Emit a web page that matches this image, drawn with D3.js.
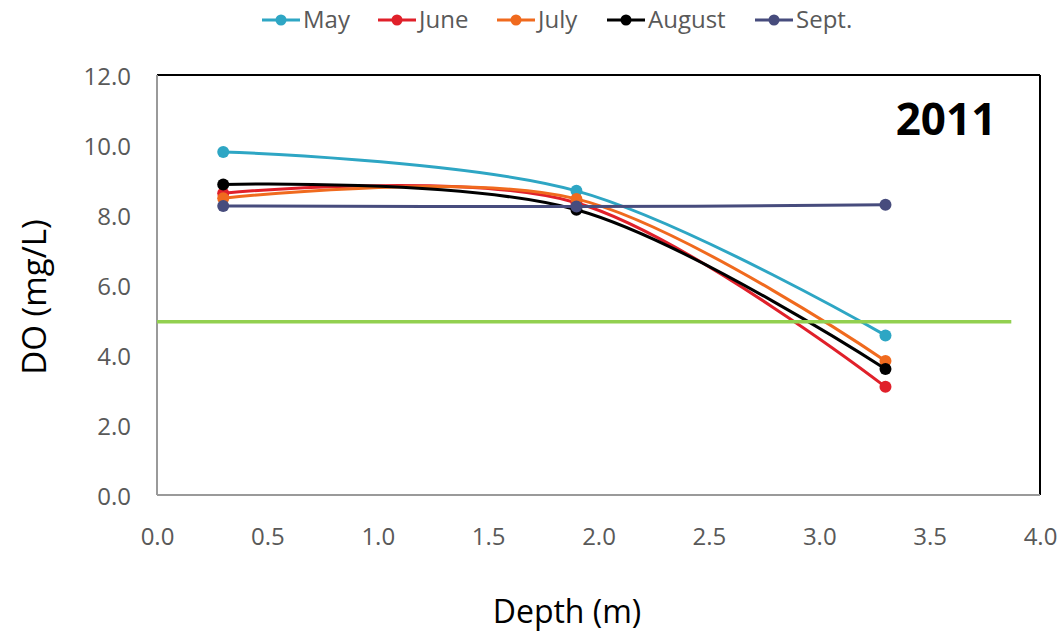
<!DOCTYPE html>
<html><head><meta charset="utf-8">
<script src="https://cdn.jsdelivr.net/npm/d3@7"></script>
<style>body{margin:0;background:#fff}</style>
</head><body>
<svg id="c" width="1063" height="633"></svg>
<script>
const depths = [0.3, 1.9, 3.3];
const months = ["May", "June", "July", "August", "Sept."];
const may = [9.8, 8.69, 4.56];
const june = [8.62, 8.35, 3.09];
const july = [8.48, 8.46, 3.83];
const august = [8.87, 8.15, 3.6];
const sept = [8.26, 8.24, 8.29];
const standardX = [0, 3.87];
const standardY = [4.95, 4.95];
const xTicks = [0, 0.5, 1, 1.5, 2, 2.5, 3, 3.5, 4];
const yTicks = [0, 2, 4, 6, 8, 10, 12];
const colors = ["#2ea6c4", "#e0202a", "#f06a1e", "#000000", "#474c7d"];

const series = [may, june, july, august, sept];
const svg = d3.select("#c");
const L = 157, R = 1040, T = 75, B = 495;
const x = d3.scaleLinear().domain([0, 4]).range([L, R]);
const y = d3.scaleLinear().domain([0, 12]).range([B, T]);

// frame
svg.append("line").attr("x1", L).attr("x2", R).attr("y1", T).attr("y2", T).attr("stroke", "#000").attr("stroke-width", 2);
svg.append("line").attr("x1", R).attr("x2", R).attr("y1", T).attr("y2", B).attr("stroke", "#000").attr("stroke-width", 2);
svg.append("line").attr("x1", L).attr("x2", L).attr("y1", T).attr("y2", B).attr("stroke", "#9a9a9a").attr("stroke-width", 2);
svg.append("line").attr("x1", L).attr("x2", R).attr("y1", B).attr("y2", B).attr("stroke", "#9a9a9a").attr("stroke-width", 2);

const font = "'Open Sans', sans-serif";
const xa = svg.append("g").attr("transform", `translate(0,${B})`)
  .call(d3.axisBottom(x).tickValues(xTicks).tickFormat(d3.format(".1f")).tickSize(0).tickPadding(33));
xa.select(".domain").remove();
xa.selectAll("text").attr("font-family", font).attr("font-size", 24).attr("fill", "#595959");
const ya = svg.append("g").attr("transform", `translate(${L},0)`)
  .call(d3.axisLeft(y).tickValues(yTicks).tickFormat(d3.format(".1f")).tickSize(0).tickPadding(26));
ya.select(".domain").remove();
ya.selectAll("text").attr("font-family", font).attr("font-size", 24).attr("fill", "#595959").attr("dy", "0.4em");

svg.append("text").attr("x", 567).attr("y", 623).attr("text-anchor", "middle")
  .attr("font-family", font).attr("font-size", 32).text("Depth (m)");
svg.append("text").attr("transform", "translate(46,297) rotate(-90)").attr("text-anchor", "middle")
  .attr("font-family", font).attr("font-size", 33).text("DO (mg/L)");
svg.append("text").attr("x", 946).attr("y", 135).attr("text-anchor", "middle")
  .attr("font-family", font).attr("font-weight", "bold").attr("font-size", 44).text("2011");

const line = d3.line().x(d => x(d[0])).y(d => y(d[1])).curve(d3.curveCardinal.tension(0));
series.forEach((s, i) => {
  const pts = depths.map((d, j) => [d, s[j]]);
  svg.append("path").attr("d", line(pts)).attr("fill", "none").attr("stroke", colors[i]).attr("stroke-width", 3);
  svg.selectAll(null).data(pts).enter().append("circle")
    .attr("cx", d => x(d[0])).attr("cy", d => y(d[1])).attr("r", 6).attr("fill", colors[i]);
});
svg.append("line").attr("x1", x(standardX[0])).attr("x2", x(standardX[1]))
  .attr("y1", y(standardY[0])).attr("y2", y(standardY[1])).attr("stroke", "#92d050").attr("stroke-width", 3.5);

// legend
const legX = [262, 378, 497, 607, 755];
const lg = svg.append("g");
months.forEach((m, i) => {
  const g = lg.append("g").attr("transform", `translate(${legX[i]},20)`);
  g.append("line").attr("x1", 0).attr("x2", 38).attr("stroke", colors[i]).attr("stroke-width", 3);
  g.append("circle").attr("cx", 19).attr("r", 5.5).attr("fill", colors[i]);
  g.append("text").attr("x", 41).attr("y", 8).attr("font-family", "'Liberation Sans Narrow', 'Open Sans', sans-serif")
    .attr("font-size", 24).attr("fill", "#595959").text(m);
});
</script>
</body></html>
